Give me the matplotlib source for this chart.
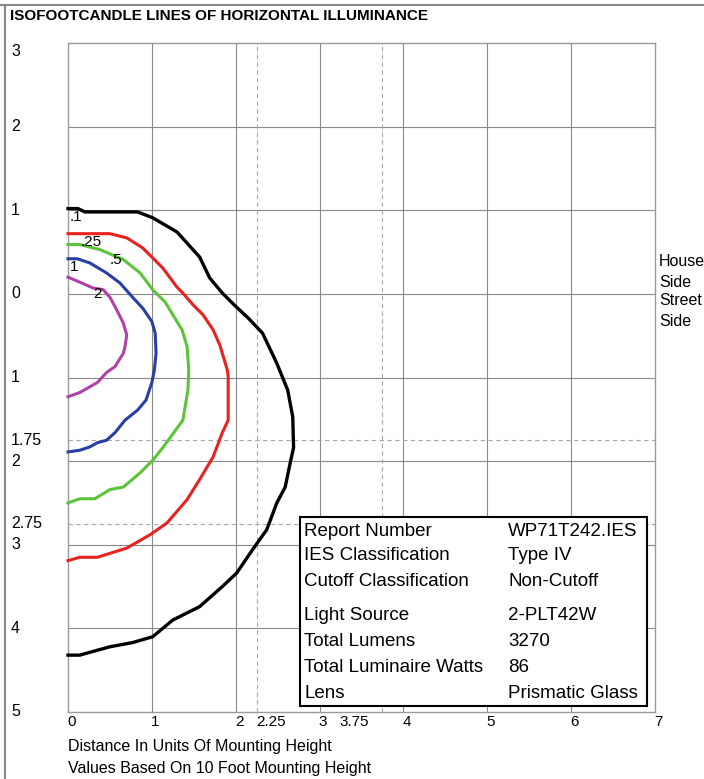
import numpy as np
import matplotlib.pyplot as plt
from matplotlib.patches import Rectangle
from matplotlib.lines import Line2D

plt.rcParams['font.family'] = ['Liberation Sans', 'DejaVu Sans']

# isofootcandle contours, x = distance, y = + house side / - street side
fc01_x = [0, 0.12, 0.2, 0.83, 1.01, 1.30, 1.57, 1.69, 1.84, 1.99, 2.15, 2.32, 2.49, 2.62, 2.68,
          2.69, 2.65, 2.59, 2.49, 2.37, 2.20, 2.01, 1.84, 1.57, 1.25, 1.01, 0.77, 0.50, 0.14, 0]
fc01_y = [1.02, 1.02, 0.98, 0.98, 0.91, 0.74, 0.44, 0.19, 0.01, -0.14, -0.29, -0.47, -0.83, -1.15, -1.47,
          -1.84, -2.02, -2.31, -2.50, -2.82, -3.06, -3.34, -3.50, -3.74, -3.90, -4.10, -4.17, -4.22, -4.32, -4.32]

fc025_x = [0, 0.50, 0.70, 0.89, 1.06, 1.13, 1.30, 1.36, 1.49, 1.61, 1.73, 1.81, 1.90, 1.91,
           1.91, 1.84, 1.73, 1.57, 1.42, 1.18, 0.98, 0.70, 0.35, 0.14, 0]
fc025_y = [0.72, 0.72, 0.67, 0.55, 0.38, 0.31, 0.08, 0.02, -0.13, -0.25, -0.43, -0.61, -0.91, -0.99,
           -1.51, -1.66, -1.95, -2.22, -2.46, -2.74, -2.88, -3.04, -3.15, -3.15, -3.19]

fc05_x = [0, 0.14, 0.38, 0.66, 0.86, 1.01, 1.16, 1.25, 1.36, 1.42, 1.44, 1.43, 1.37,
          1.13, 1.01, 0.86, 0.66, 0.50, 0.32, 0.14, 0]
fc05_y = [0.59, 0.59, 0.53, 0.41, 0.25, 0.05, -0.10, -0.25, -0.43, -0.63, -0.91, -1.15, -1.51,
          -1.84, -1.99, -2.14, -2.31, -2.34, -2.45, -2.45, -2.50]

fc1_x = [0, 0.11, 0.26, 0.46, 0.62, 0.77, 0.89, 1.00, 1.04, 1.05, 1.03, 1.00, 0.93, 0.83,
         0.68, 0.56, 0.46, 0.35, 0.26, 0.14, 0]
fc1_y = [0.42, 0.42, 0.37, 0.25, 0.13, -0.04, -0.17, -0.33, -0.47, -0.71, -0.91, -1.06, -1.27, -1.39,
         -1.51, -1.66, -1.75, -1.78, -1.83, -1.87, -1.89]

fc2_x = [0, 0.14, 0.30, 0.42, 0.50, 0.58, 0.66, 0.70, 0.68, 0.66, 0.56, 0.46, 0.35, 0.14, 0]
fc2_y = [0.20, 0.14, 0.07, 0.05, -0.04, -0.19, -0.35, -0.49, -0.63, -0.71, -0.87, -0.94, -1.06, -1.18, -1.23]

curve_labels = ['.1', '.25', '.5', '1', '2']
label_x = [0.02, 0.15, 0.50, 0.02, 0.30]
label_y = [0.92, 0.62, 0.41, 0.32, 0.00]

y_ticks = [3, 2, 1, 0, -1, -2, -3, -4, -5]
y_tick_labels = ['3', '2', '1', '0', '1', '2', '3', '4', '5']
x_ticks = [0, 1, 2, 2.25, 3, 3.75, 4, 5, 6, 7]
x_tick_labels = ['0', '1', '2', '2.25', '3', '3.75', '4', '5', '6', '7']

info_keys = ['Report Number', 'IES Classification', 'Cutoff Classification', 'Light Source',
             'Total Lumens', 'Total Luminaire Watts', 'Lens']
info_vals = ['WP71T242.IES', 'Type IV', 'Non-Cutoff', '2-PLT42W', '3270', '86', 'Prismatic Glass']

W, H = 704, 779
fig = plt.figure(figsize=(W / 100, H / 100), dpi=100)
ax = fig.add_axes([68 / W, 1 - 712 / H, 587 / W, 669 / H])
ax.set_xlim(0, 7)
ax.set_ylim(-5, 3)
ax.set_xticks([])
ax.set_yticks([])
for s in ax.spines.values():
    s.set_color('#9a9a9a')
    s.set_linewidth(1.0)

# grid
for x in range(1, 7):
    ax.axvline(x, color='#8a8a8a', lw=0.8, zorder=1)
for y in range(-4, 3):
    ax.axhline(y, color='#8a8a8a', lw=0.8, zorder=1)
for x in [2.25, 3.75]:
    ax.axvline(x, color='#a8a8a8', lw=0.8, ls=(0, (4, 3)), zorder=1)
for y in [-1.75, -2.75]:
    ax.axhline(y, color='#a8a8a8', lw=0.8, ls=(0, (4, 3)), zorder=1)

# contours
ax.plot(fc01_x, fc01_y, color='black', lw=2.4, zorder=3, clip_on=False)
ax.plot(fc025_x, fc025_y, color='#e8231f', lw=2.2, zorder=3, clip_on=False)
ax.plot(fc05_x, fc05_y, color='#5cc43a', lw=2.2, zorder=3, clip_on=False)
ax.plot(fc1_x, fc1_y, color='#2a3fa6', lw=2.2, zorder=3, clip_on=False)
ax.plot(fc2_x, fc2_y, color='#b042a8', lw=2.2, zorder=3, clip_on=False)

for lab, lx, ly in zip(curve_labels, label_x, label_y):
    ax.text(lx, ly, lab, fontsize=11, ha='left', va='center', zorder=4)

# tick labels
ytr = ax.get_yaxis_transform()
for yv, lab in zip(y_ticks, y_tick_labels):
    yy = yv - 0.1 if yv == 3 else yv
    ax.text(-0.097, yy, lab, transform=ytr, fontsize=11.5, ha='left', va='center', clip_on=False)
ax.text(-0.097, -1.75, '1.75', transform=ytr, fontsize=11.5, ha='left', va='center')
ax.text(-0.097, -2.75, '2.75', transform=ytr, fontsize=11.5, ha='left', va='center')

for xv, lab in zip(x_ticks, x_tick_labels):
    xx = 3.24 if lab == '3.75' else xv - 0.01
    ax.text(xx, -5.03, lab, fontsize=11, ha='left', va='top')

# side labels
for txt, yy in zip(['House', 'Side', 'Street', 'Side'], [0.39, 0.14, -0.08, -0.33]):
    ax.text(1.007, yy, txt, transform=ytr, fontsize=11.5, ha='left', va='center')

# info box
box = Rectangle((300 / W, 1 - 706 / H), 347 / W, 189 / H, transform=fig.transFigure,
                facecolor='white', edgecolor='black', lw=1.5, zorder=5)
fig.patches.append(box)
for k, v, py in zip(info_keys, info_vals, [531, 556, 581, 615, 642, 667, 693]):
    fig.text(304 / W, 1 - py / H, k, fontsize=13.5, ha='left', va='center', zorder=6)
    fig.text(508 / W, 1 - py / H, v, fontsize=13.5, ha='left', va='center', zorder=6)

# titles
fig.text(10 / W, 1 - 16 / H, 'ISOFOOTCANDLE LINES OF HORIZONTAL ILLUMINANCE',
         fontsize=11, fontweight='bold', ha='left', va='center')
fig.text(68 / W, 1 - 746 / H, 'Distance In Units Of Mounting Height', fontsize=11.5, ha='left', va='center')
fig.text(68 / W, 1 - 768 / H, 'Values Based On 10 Foot Mounting Height', fontsize=11.5, ha='left', va='center')

# outer frame lines
fig.add_artist(Line2D([0, 1], [1 - 5 / H, 1 - 5 / H], transform=fig.transFigure, color='#8a8a8a', lw=1.5))
fig.add_artist(Line2D([5 / W, 5 / W], [0, 1 - 5 / H], transform=fig.transFigure, color='#8a8a8a', lw=1.5))

fig.savefig('out.png', dpi=100)
